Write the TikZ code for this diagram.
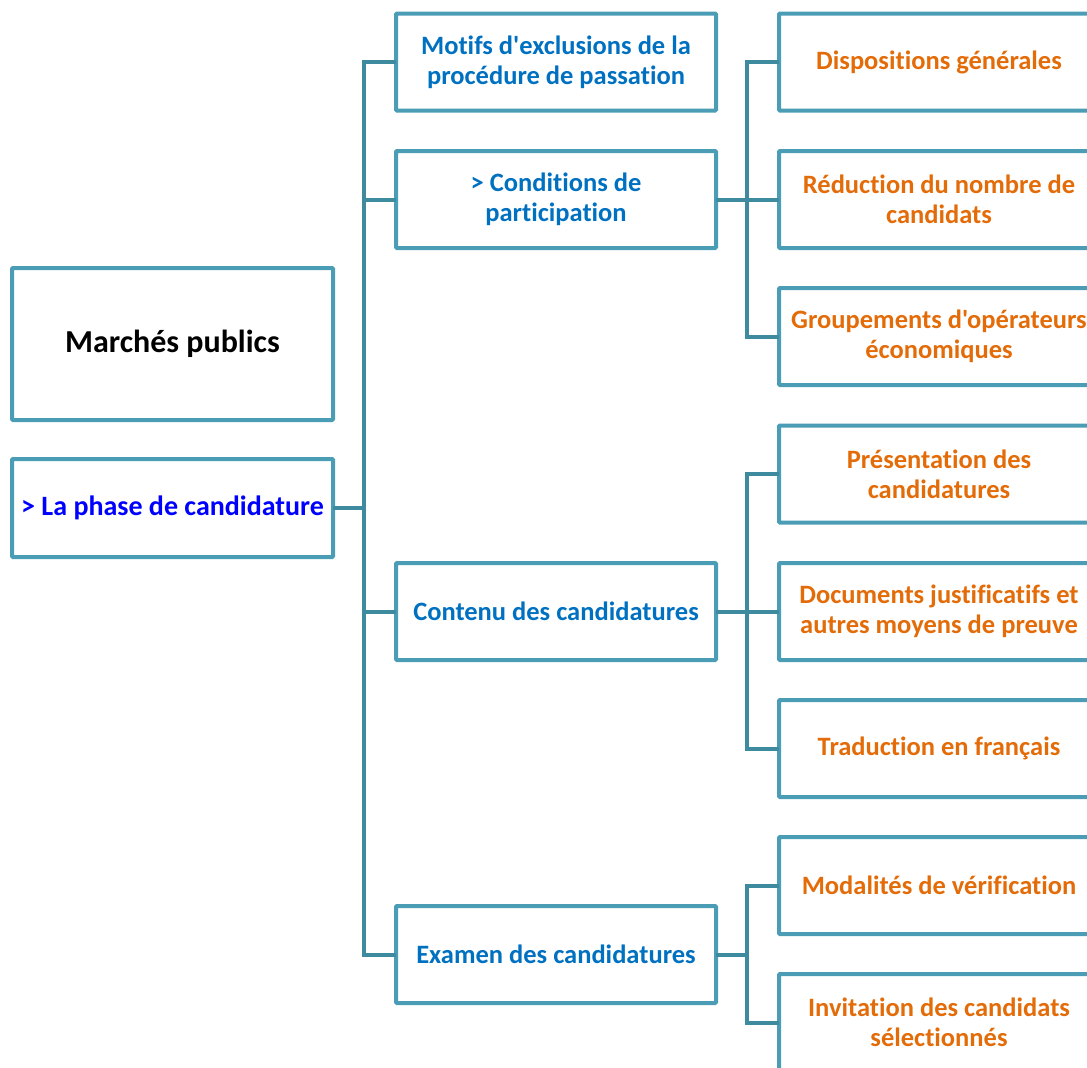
\documentclass[tikz,border=0pt]{standalone}
\usepackage{fontspec}
\setmainfont{Carlito}[Ligatures={NoCommon,TeXOff}]
\usetikzlibrary{calc}
\definecolor{boxc}{HTML}{4A9DB5}
\definecolor{linec}{HTML}{3E8A9E}
\definecolor{bluet}{HTML}{0070C0}
\definecolor{pureb}{HTML}{0000FF}
\definecolor{orat}{HTML}{E36C09}
\tikzset{
  x=1pt, y=-1pt,
  box/.style={draw=boxc, line width=4pt, rectangle, rounded corners=1pt, outer sep=0pt,
    minimum width=320pt, align=center, font=\bfseries\fontsize{26.5}{30}\selectfont, inner sep=1pt},
  lvlb/.style={box, minimum height=97pt, text=bluet},
  lvlc/.style={box, minimum height=97pt, text=orat},
  conn/.style={draw=linec, line width=4pt}
}
\begin{document}
\begin{tikzpicture}
\useasboundingbox (0,0) rectangle (1087,1068);
\clip (0,0) rectangle (1087,1068);
% level 1
\node[box, minimum width=321pt, minimum height=152pt, text=black, font=\bfseries\fontsize{32}{36}\selectfont] (mp) at (172.5,344) {Marchés publics};
\node[box, minimum width=321pt, minimum height=98pt, text=pureb, font=\bfseries\fontsize{28}{32}\selectfont] (phase) at (172.5,508) {> La phase de candidature};
% level 2
\node[lvlb] (motifs) at (556,62) {Motifs d'exclusions de la\\procédure de passation};
\node[lvlb] (cond) at (556,199.5) {> Conditions de\\participation};
\node[lvlb] (cont) at (556,611.5) {Contenu des candidatures};
\node[lvlb] (exam) at (556,954.5) {Examen des candidatures};
% level 3
\node[lvlc] (disp) at (939,62) {Dispositions générales};
\node[lvlc] (redu) at (939,199.5) {Réduction du nombre de\\candidats};
\node[lvlc] (grou) at (939,336.5) {Groupements d'opérateurs\\économiques};
\node[lvlc] (pres) at (939,474) {Présentation des\\candidatures};
\node[lvlc] (docs) at (939,611.5) {Documents justificatifs et\\autres moyens de preuve};
\node[lvlc] (trad) at (939,748.5) {Traduction en français};
\node[lvlc] (moda) at (939,885.5) {Modalités de vérification};
\node[lvlc] (invi) at (939,1022.5) {Invitation des candidats\\sélectionnés};
% junction columns
\coordinate (ja) at (364,0);
\coordinate (jb) at (747,0);
% level 1 -> level 2
\draw[conn] (motifs.west) -- (motifs.west -| ja) -- (exam.west -| ja) -- (exam.west);
\draw[conn] (cond.west) -- (cond.west -| ja);
\draw[conn] (cont.west) -- (cont.west -| ja);
\draw[conn] (phase.east) -- (phase.east -| ja);
% conditions -> level 3
\draw[conn] (disp.west) -- (disp.west -| jb) -- (grou.west -| jb) -- (grou.west);
\draw[conn] (redu.west) -- (redu.west -| jb);
\draw[conn] (cond.east) -- (cond.east -| jb);
% contenu -> level 3
\draw[conn] (pres.west) -- (pres.west -| jb) -- (trad.west -| jb) -- (trad.west);
\draw[conn] (docs.west) -- (docs.west -| jb);
\draw[conn] (cont.east) -- (cont.east -| jb);
% examen -> level 3
\draw[conn] (moda.west) -- (moda.west -| jb) -- (invi.west -| jb) -- (invi.west);
\draw[conn] (exam.east) -- (exam.east -| jb);
\end{tikzpicture}
\end{document}
